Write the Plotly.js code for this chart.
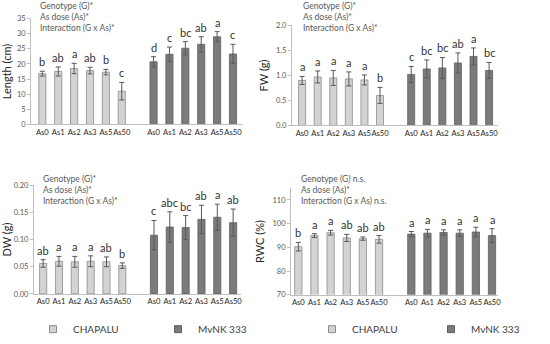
<!DOCTYPE html>
<html>
<head>
<meta charset="utf-8">
<script src="https://cdn.plot.ly/plotly-3.0.1.min.js"></script>
<style>html,body{margin:0;padding:0;background:#fff}#chart{width:550px;height:344px}</style>
</head>
<body>
<div id="chart"></div>
<script>
const doses = ['As0','As1','As2','As3','As5','As50'];
const genotypes = ['CHAPALU','MvNK 333'];

const lenChap = [16.8,17.5,18.5,17.8,17.3,11.0];
const lenChapErr = [0.8,1.5,1.7,1.1,0.9,2.9];
const lenMv = [20.7,23.2,25.2,26.5,29.0,23.3];
const lenMvErr = [1.7,2.4,2.2,2.5,1.7,3.2];
const lenChapLet = ['b','ab','a','ab','b','c'];
const lenMvLet = ['d','c','bc','ab','a','c'];

const fwChap = [0.90,0.97,0.95,0.93,0.91,0.60];
const fwChapErr = [0.08,0.12,0.15,0.14,0.10,0.16];
const fwMv = [1.02,1.13,1.15,1.25,1.38,1.10];
const fwMvErr = [0.16,0.18,0.21,0.20,0.17,0.16];
const fwChapLet = ['a','a','a','a','a','b'];
const fwMvLet = ['c','bc','bc','ab','a','bc'];

const dwChap = [0.056,0.060,0.059,0.060,0.059,0.052];
const dwChapErr = [0.007,0.009,0.010,0.010,0.009,0.005];
const dwMv = [0.108,0.123,0.122,0.137,0.141,0.131];
const dwMvErr = [0.027,0.028,0.022,0.026,0.024,0.025];
const dwChapLet = ['ab','a','a','a','ab','b'];
const dwMvLet = ['c','abc','bc','ab','a','ab'];

const rwcChap = [90.3,95.0,96.2,94.0,93.7,93.4];
const rwcChapErr = [1.8,0.8,1.0,1.5,0.7,1.6];
const rwcMv = [95.6,96.0,96.3,96.0,96.5,95.0];
const rwcMvErr = [1.1,1.6,1.1,1.4,2.0,2.9];
const rwcChapLet = ['b','a','a','ab','ab','ab'];
const rwcMvLet = ['a','a','a','a','a','a'];

const statsA = ['Genotype (G)*','As dose (As)*','Interaction (G x As)*'];
const statsRWC = ['Genotype (G) n.s.','As dose (As)*','Interaction (G x As) n.s.'];

const panels = [
  {chap:lenChap, chapErr:lenChapErr, mv:lenMv, mvErr:lenMvErr, chapLet:lenChapLet, mvLet:lenMvLet, title:'Length (cm)', stats:statsA},
  {chap:fwChap, chapErr:fwChapErr, mv:fwMv, mvErr:fwMvErr, chapLet:fwChapLet, mvLet:fwMvLet, title:'FW (g)', stats:statsA},
  {chap:dwChap, chapErr:dwChapErr, mv:dwMv, mvErr:dwMvErr, chapLet:dwChapLet, mvLet:dwMvLet, title:'DW (g)', stats:statsA},
  {chap:rwcChap, chapErr:rwcChapErr, mv:rwcMv, mvErr:rwcMvErr, chapLet:rwcChapLet, mvLet:rwcMvLet, title:'RWC (%)', stats:statsRWC}
];

// layout geometry (pixels -> paper)
const W = 550, H = 344;
const geo = [
  {x0:34, x1:265, y0:19, y1:127, xr:[-0.7,12.65], yr:[0,35], dtick:5, fmt:'d', sx:41, sy:17},
  {x0:318, x1:542, y0:26, y1:128, xr:[-0.65,12.55], yr:[0,2], dtick:0.5, fmt:'.1f', sx:328, sy:17},
  {x0:37, x1:262, y0:189, y1:300, xr:[-0.58,12.47], yr:[0,0.2], dtick:0.05, fmt:'.2f', sx:45, sy:194},
  {x0:317, x1:542, y0:192, y1:301, xr:[-0.45,12.35], yr:[70,115], dtick:10, fmt:'d', sx:326, sy:194}
];

const chapPos = doses.map((d,i)=>i);
const mvPos = doses.map((d,i)=>i+7);
const tickvals = chapPos.concat(mvPos);
const ticktext = doses.concat(doses);

const lightFill = '#d3d3d3', lightLine = '#8c8c8c';
const darkFill = '#7b7b7b', darkLine = '#5e5e5e';
const errCol = '#595959';
const FONT = 'Lato, "Liberation Sans", Arial, sans-serif';

const traces = [];
const annotations = [];
const layout = {
  width: W, height: H,
  margin: {l:0, r:0, t:0, b:0},
  paper_bgcolor: '#fff', plot_bgcolor: 'rgba(0,0,0,0)',
  barmode: 'overlay',
  font: {family: FONT, color: '#404040'},
  showlegend: true,
  annotations: annotations,
  legend: {x: 36/W, y: 1-336/H, xanchor:'left', yanchor:'middle', orientation:'h',
           font:{size:10, color:'#404040', family:FONT}, itemwidth:30, entrywidth:80, entrywidthmode:'pixels',
           bgcolor:'rgba(0,0,0,0)', tracegroupgap:0},
  legend2: {x: 340/W, y: 1-336/H, xanchor:'left', yanchor:'middle', orientation:'h',
           font:{size:10, color:'#404040', family:FONT}, itemwidth:30, entrywidth:74, entrywidthmode:'pixels',
           bgcolor:'rgba(0,0,0,0)', tracegroupgap:0}
};

panels.forEach((p, k) => {
  const g = geo[k];
  const sfx = k === 0 ? '' : String(k+1);
  const xa = 'x' + sfx, ya = 'y' + sfx;
  traces.push({
    type:'bar', x: chapPos, y: p.chap, name: genotypes[0], xaxis: xa, yaxis: ya, width: 0.45,
    marker: {color: lightFill, line: {color: lightLine, width: 0.8}},
    error_y: {type:'data', array: p.chapErr, visible: true, color: errCol, thickness: 1, width: 2.5},
    showlegend: false, hoverinfo: 'skip'
  });
  traces.push({
    type:'bar', x: mvPos, y: p.mv, name: genotypes[1], xaxis: xa, yaxis: ya, width: 0.45,
    marker: {color: darkFill, line: {color: darkLine, width: 0.8}},
    error_y: {type:'data', array: p.mvErr, visible: true, color: errCol, thickness: 1, width: 2.5},
    showlegend: false, hoverinfo: 'skip'
  });
  layout['xaxis' + sfx] = {
    domain: [g.x0/W, g.x1/W], anchor: ya, range: g.xr,
    tickmode: 'array', tickvals: tickvals, ticktext: ticktext, ticks: '', tickangle: 0,
    showline: true, linecolor: '#bfbfbf', linewidth: 1, showgrid: false, zeroline: false,
    tickfont: {size: 7.6, color: '#262626', family: FONT}, fixedrange: true
  };
  layout['yaxis' + sfx] = {
    domain: [1 - g.y1/H, 1 - g.y0/H], anchor: xa, range: g.yr,
    dtick: g.dtick, tick0: g.yr[0], tickformat: g.fmt,
    ticks: 'outside', ticklen: 3, tickcolor: '#bfbfbf',
    showline: true, linecolor: '#bfbfbf', linewidth: 1, showgrid: false, zeroline: false,
    tickfont: {size: 7.5, color: '#595959', family: FONT},
    title: {text: p.title, font: {size: 11, color: '#262626', family: FONT}, standoff: 5},
    automargin: false, fixedrange: true
  };
  // significance letters
  p.chapLet.forEach((t, i) => annotations.push({
    xref: xa, yref: ya, x: chapPos[i], y: p.chap[i] + p.chapErr[i], text: t, showarrow: false,
    yanchor: 'bottom', yshift: 1, font: {size: 11, color: '#333333', family: FONT}
  }));
  p.mvLet.forEach((t, i) => annotations.push({
    xref: xa, yref: ya, x: mvPos[i], y: p.mv[i] + p.mvErr[i], text: t, showarrow: false,
    yanchor: 'bottom', yshift: 1, font: {size: 11, color: '#333333', family: FONT}
  }));
  // stats block
  annotations.push({
    xref: 'paper', yref: 'paper', x: g.sx/W, y: 1 - g.sy/H, xanchor: 'left', yanchor: 'middle',
    align: 'left', showarrow: false, text: p.stats.join('<br>'),
    font: {size: 8.5, color: '#595959', family: FONT}
  });
});

// legend entries (one legend under each bottom panel)
[['legend','x3','y3'], ['legend2','x4','y4']].forEach(([lg, xa, ya]) => {
  genotypes.forEach((gname, j) => traces.push({
    type: 'scatter', mode: 'markers', x: [null], y: [null], name: gname, xaxis: xa, yaxis: ya,
    legend: lg, hoverinfo: 'skip',
    marker: {symbol: 'square', size: 7, color: j === 0 ? lightFill : darkFill,
             line: {color: j === 0 ? lightLine : darkLine, width: 1}}
  }));
});

Plotly.newPlot('chart', traces, layout, {displayModeBar: false, staticPlot: true});
</script>
</body>
</html>
